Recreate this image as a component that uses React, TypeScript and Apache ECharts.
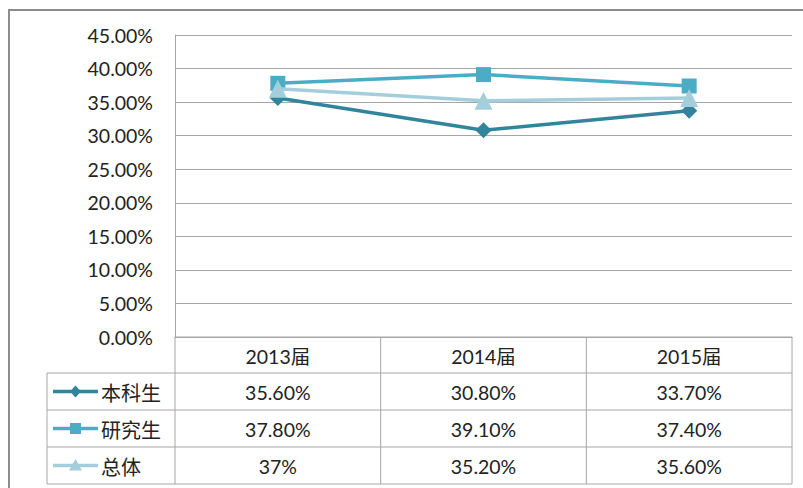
import React, { useEffect, useRef } from "react";
import * as echarts from "echarts";

const categories = ["2013届", "2014届", "2015届"];
const seriesNames = ["本科生", "研究生", "总体"];
const undergrad = [35.6, 30.8, 33.7];
const graduate = [37.8, 39.1, 37.4];
const overall = [37, 35.2, 35.6];
const undergradLabels = ["35.60%", "30.80%", "33.70%"];
const graduateLabels = ["37.80%", "39.10%", "37.40%"];
const overallLabels = ["37%", "35.20%", "35.60%"];
const yMin = 0;
const yMax = 45;
const yInterval = 5;

const colors = ["#31849B", "#4BACC6", "#A5CEDD"];
const symbols = ["diamond", "rect", "triangle"];
const symbolSizes = [16, 15, 18];

const W = 803;
const H = 488;
const GRID_LEFT = 175;
const GRID_RIGHT_X = 792;
const GRID_TOP = 35;
const GRID_BOTTOM_Y = 337;
const TABLE_LEFT = 47;
const ROW_BOUNDS = [337, 373, 410, 447, 484];
const LINE_COLOR = "#A6A6A6";
const TEXT_COLOR = "#222222";
const FONT = "Lato, 'Noto Sans CJK SC', sans-serif";
const FS = 19.5;

export default function App() {
  const ref = useRef<HTMLDivElement>(null);
  useEffect(() => {
    document.body.style.margin = "0";
    if (!ref.current) return;
    const chart = echarts.init(ref.current, null, { renderer: "svg" });
    const values = [undergrad, graduate, overall];
    const labelRows = [undergradLabels, graduateLabels, overallLabels];
    chart.setOption({
      animation: false,
      backgroundColor: "#fff",
      grid: {
        left: GRID_LEFT,
        right: W - GRID_RIGHT_X,
        top: GRID_TOP,
        bottom: H - GRID_BOTTOM_Y,
        containLabel: false,
      },
      xAxis: {
        type: "category",
        data: categories,
        boundaryGap: true,
        axisLine: { show: true, lineStyle: { color: LINE_COLOR, width: 1 } },
        axisTick: { show: false },
        axisLabel: { show: false },
        splitLine: { show: false },
      },
      yAxis: {
        type: "value",
        min: yMin,
        max: yMax,
        interval: yInterval,
        axisLine: { show: true, lineStyle: { color: LINE_COLOR, width: 1 } },
        axisTick: { show: false },
        splitLine: { show: true, lineStyle: { color: LINE_COLOR, width: 1 } },
        axisLabel: {
          margin: 22,
          fontSize: FS,
          fontFamily: FONT,
          color: TEXT_COLOR,
          formatter: (v: number) => v.toFixed(2) + "%",
        },
      },
      series: seriesNames.map((name, i) => ({
        name,
        type: "line",
        data: values[i],
        symbol: symbols[i],
        symbolSize: symbolSizes[i],
        lineStyle: { color: colors[i], width: 3.5 },
        itemStyle: { color: colors[i] },
        z: 2 + i,
      })),
    });

    const centers = categories.map((_, i) => chart.convertToPixel({ xAxisIndex: 0 }, i) as number);
    const band = centers.length > 1 ? centers[1] - centers[0] : GRID_RIGHT_X - GRID_LEFT;
    const colBounds = [GRID_LEFT, ...centers.map((c) => c + band / 2)];
    const els: any[] = [];
    els.push({
      type: "rect",
      shape: { x: 9, y: 10, width: W, height: H },
      style: { fill: "none", stroke: "#8C8C8C", lineWidth: 2 },
      z: 0,
    });
    const line = (x1: number, y1: number, x2: number, y2: number) =>
      els.push({
        type: "line",
        shape: { x1, y1, x2, y2 },
        style: { stroke: LINE_COLOR, lineWidth: 1 },
        z: 1,
      });
    line(GRID_LEFT, ROW_BOUNDS[0], GRID_RIGHT_X, ROW_BOUNDS[0]);
    for (let r = 1; r < ROW_BOUNDS.length; r++) line(TABLE_LEFT, ROW_BOUNDS[r], GRID_RIGHT_X, ROW_BOUNDS[r]);
    line(TABLE_LEFT, ROW_BOUNDS[1], TABLE_LEFT, ROW_BOUNDS[4]);
    colBounds.forEach((x) => line(x, ROW_BOUNDS[0], x, ROW_BOUNDS[4]));
    const txt = (text: string, x: number, y: number, align = "center", size = FS) =>
      els.push({
        type: "text",
        x,
        y,
        style: {
          text,
          fill: TEXT_COLOR,
          font: `${size}px ${FONT}`,
          align,
          verticalAlign: "middle",
        },
        z: 3,
      });
    const rowMid = (r: number) => (ROW_BOUNDS[r] + ROW_BOUNDS[r + 1]) / 2;
    categories.forEach((c, i) => txt(c, centers[i], rowMid(0) + 1));
    labelRows.forEach((row, r) => {
      row.forEach((t, i) => txt(t, centers[i], rowMid(r + 1) + 1));
      const y = rowMid(r + 1);
      els.push({
        type: "line",
        shape: { x1: 53, y1: y, x2: 98, y2: y },
        style: { stroke: colors[r], lineWidth: 3.5 },
        z: 3,
      });
      const cx = 75.5;
      if (symbols[r] === "diamond") {
        els.push({
          type: "polygon",
          shape: { points: [[cx, y - 6], [cx + 5.5, y], [cx, y + 6], [cx - 5.5, y]] },
          style: { fill: colors[r] },
          z: 4,
        });
      } else if (symbols[r] === "rect") {
        els.push({
          type: "rect",
          shape: { x: cx - 5.5, y: y - 5.5, width: 11, height: 11 },
          style: { fill: colors[r] },
          z: 4,
        });
      } else {
        els.push({
          type: "polygon",
          shape: { points: [[cx, y - 6.5], [cx + 6.5, y + 5], [cx - 6.5, y + 5]] },
          style: { fill: colors[r] },
          z: 4,
        });
      }
      els.push({
        type: "text",
        x: 101,
        y: y + 1,
        style: {
          text: seriesNames[r],
          fill: TEXT_COLOR,
          font: `20px 'Noto Sans CJK SC', sans-serif`,
          align: "left",
          verticalAlign: "middle",
        },
        z: 3,
      });
    });
    chart.setOption({ graphic: { elements: els } });
    return () => chart.dispose();
  }, []);
  return <div ref={ref} style={{ width: W, height: H }} />;
}
